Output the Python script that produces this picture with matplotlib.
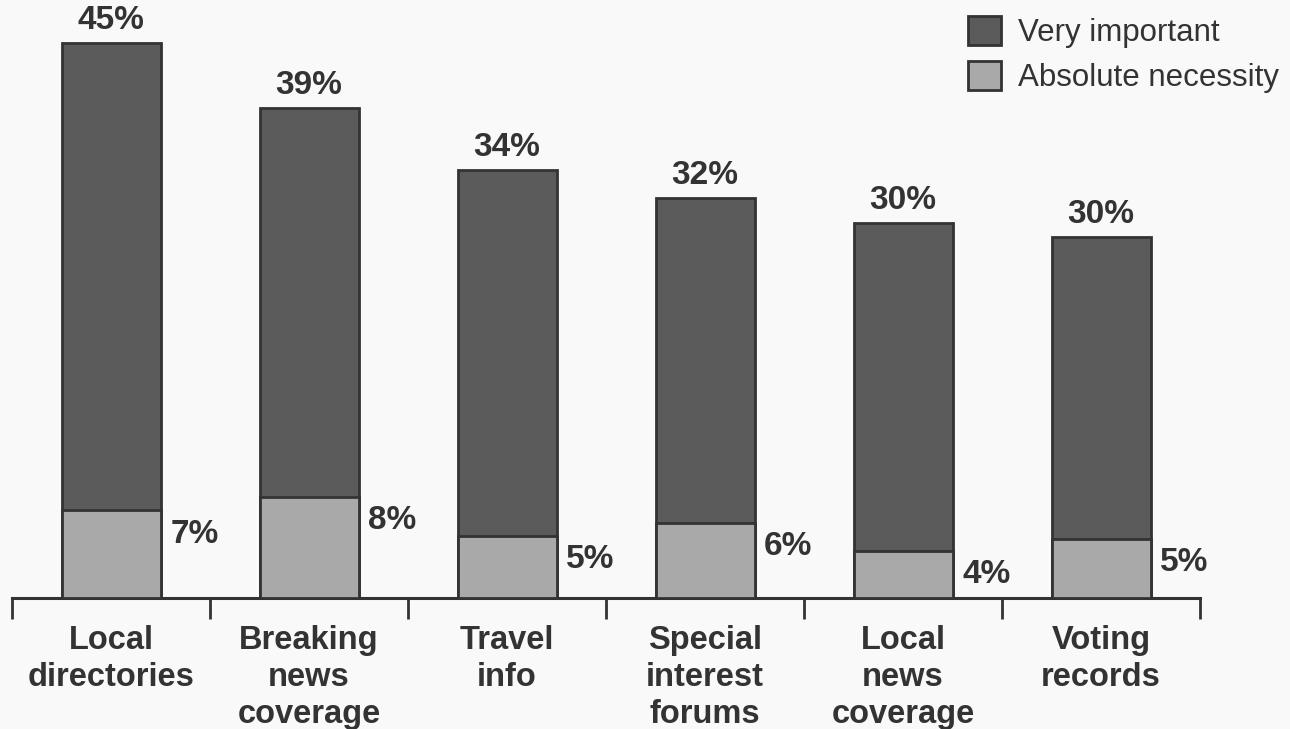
import matplotlib.pyplot as plt
from matplotlib.patches import Patch
from matplotlib.transforms import blended_transform_factory

categories = ["Local\ndirectories", "Breaking\nnews\ncoverage", "Travel\ninfo",
              "Special\ninterest\nforums", "Local\nnews\ncoverage", "Voting\nrecords"]
# printed labels
very_important_labels = [45, 39, 34, 32, 30, 30]
absolute_necessity_labels = [7, 8, 5, 6, 4, 5]
# bar heights as drawn in the original
very_important = [45, 39.7, 34.7, 32.4, 30.4, 29.3]
absolute_necessity = [7.1, 8.2, 5.0, 6.1, 3.8, 4.8]

DARK = "#5b5b5b"
LIGHT = "#a9a9a9"
EDGE = "#333333"
TEXT = "#333333"
BG = "#f9f9f9"

plt.rcParams["font.family"] = ["Liberation Sans", "DejaVu Sans"]

W, H = 1290, 729
fig = plt.figure(figsize=(W / 100, H / 100), dpi=100, facecolor=BG)
ax = fig.add_axes([12 / W, (H - 598) / H, (1200 - 12) / W, 592 / H])
ax.set_facecolor(BG)

x = list(range(len(categories)))
width = 0.5
ax.bar(x, very_important, width=width, color=DARK, edgecolor=EDGE, linewidth=2, zorder=2)
ax.bar(x, absolute_necessity, width=width, color=LIGHT, edgecolor=EDGE, linewidth=2, zorder=3)

for i in x:
    ax.annotate(f"{very_important_labels[i]}%", (i, very_important[i]), xytext=(0, 5),
                textcoords="offset points", ha="center", va="bottom",
                fontsize=24, fontweight="bold", color=TEXT)
    ax.annotate(f"{absolute_necessity_labels[i]}%", (i + width / 2, absolute_necessity[i]),
                xytext=(7, -17), textcoords="offset points", ha="left", va="center",
                fontsize=24, fontweight="bold", color=TEXT)

ax.set_xlim(-0.5, len(categories) - 0.5)
ax.set_ylim(0, 48)
for side in ["top", "right", "left"]:
    ax.spines[side].set_visible(False)
ax.spines["bottom"].set_linewidth(2.2)
ax.spines["bottom"].set_color(EDGE)
ax.set_yticks([])
ax.set_xticks([i - 0.5 for i in range(len(categories) + 1)])
ax.set_xticklabels([])
ax.tick_params(axis="x", direction="out", length=15, width=2, color=EDGE)

trans = blended_transform_factory(ax.transData, fig.transFigure)
for i, label in enumerate(categories):
    ax.text(i, 1 - 625 / H, label, transform=trans, ha="center", va="top",
            fontsize=23.5, fontweight="bold", color=TEXT, linespacing=1.24)

handles = [Patch(facecolor=DARK, edgecolor=EDGE, linewidth=2, label="Very important"),
           Patch(facecolor=LIGHT, edgecolor=EDGE, linewidth=2, label="Absolute necessity")]
fig.legend(handles=handles, loc="upper left", bbox_to_anchor=(968 / W, 1 - 16 / H),
           frameon=False, fontsize=22.5, handlelength=1.05, handleheight=1.05,
           handletextpad=0.55, labelspacing=0.4, borderpad=0, borderaxespad=0,
           labelcolor=TEXT)

fig.savefig("out.png", dpi=100, facecolor=BG)
